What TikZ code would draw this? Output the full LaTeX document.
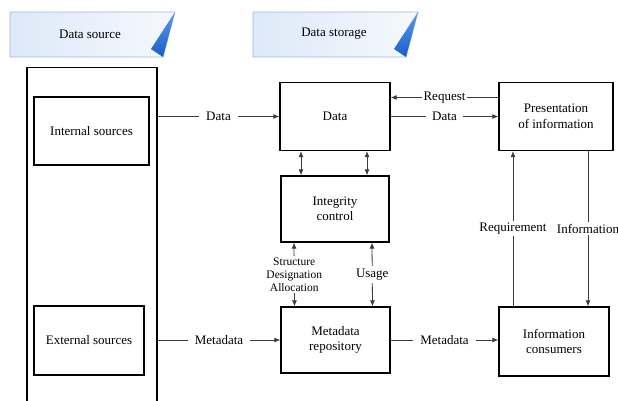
\documentclass[tikz,border=0pt]{standalone}
\usepackage{fontspec}
\setmainfont{Liberation Serif}
\usetikzlibrary{arrows.meta,positioning,calc}
\definecolor{hdrL}{RGB}{220,233,248}
\definecolor{hdrR}{RGB}{246,249,253}
\definecolor{hdrB}{RGB}{150,186,228}
\definecolor{triA}{RGB}{25,95,200}
\definecolor{triB}{RGB}{90,155,230}
\definecolor{connC}{RGB}{60,60,60}
\tikzset{
  txt/.style={font=\fontsize{13}{15.5}\selectfont, align=center},
  box/.style={txt, draw=black, line width=1.3pt, fill=white, inner sep=2pt},
  frame/.style={draw=black, line width=1.3pt},
  conn/.style={draw=connC, line width=0.8pt},
  arr/.style={conn, -{Latex[length=6pt,width=5pt]}},
  darr/.style={conn, {Latex[length=6pt,width=5pt]}-{Latex[length=6pt,width=5pt]}},
  lbl/.style={txt, fill=white, inner sep=4pt},
  slbl/.style={font=\fontsize{11.5}{13}\selectfont, align=center, fill=white, inner sep=2pt},
}
\begin{document}
\begin{tikzpicture}[x=1pt,y=-1pt]
\useasboundingbox (0,0) rectangle (618,400);
% header banners
\shade[left color=hdrL, right color=hdrR, draw=hdrB, line width=0.6pt]
  (10,12) -- (175,12) -- (163,57) -- (10,57) -- cycle;
\shade[top color=triB, bottom color=triA] (175,12) -- (151,49) -- (163,57) -- cycle;
\node[txt] (hdr1) at (90,34) {Data source};
\shade[left color=hdrL, right color=hdrR, draw=hdrB, line width=0.6pt]
  (253,12) -- (418,12) -- (406,57) -- (253,57) -- cycle;
\shade[top color=triB, bottom color=triA] (418,12) -- (394,49) -- (406,57) -- cycle;
\node[txt] (hdr2) at (334,34) {Data storage};
% left frame
\node[frame, minimum width=130pt, minimum height=360pt, anchor=north] (frame) at (92,67) {};
\node[box, minimum width=115pt, minimum height=68pt] (internal) at (91.5,131) {Internal sources};
\node[box, minimum width=110pt, minimum height=69pt] (external) at (89,340.5) {External sources};
% storage boxes
\node[box, minimum width=110pt, minimum height=68pt] (data) at (335,116.5) {Data};
\node[box, minimum width=108pt, minimum height=66pt] (integrity) at (335,209) {Integrity\\control};
\node[box, minimum width=109pt, minimum height=66pt] (meta) at (335.5,340) {Metadata\\repository};
\node[box, minimum width=114pt, minimum height=68pt] (present) at (556,116.5) {Presentation\\of information};
\node[box, minimum width=110pt, minimum height=69pt] (consumers) at (554,341.5) {Information\\consumers};
% connectors
\draw[arr] (frame.east |- data.west) -- node[lbl, inner sep=7pt]{Data} (data.west);
\draw[arr] ([yshift=19pt]present.west) -- node[lbl, inner sep=2pt]{Request} ([yshift=19pt]present.west -| data.east);
\draw[arr] (data.east) -- node[lbl, inner sep=6pt]{Data} (present.west |- data.east);
\draw[darr] ([xshift=-34pt]data.south) -- ([xshift=-34pt]integrity.north);
\draw[darr] ([xshift=32pt]data.south) -- ([xshift=32pt]integrity.north);
\draw[darr] ([xshift=-41pt]integrity.south) -- node[slbl]{Structure\\Designation\\Allocation} ([xshift=-41pt]meta.north);
\draw[darr] ([xshift=37pt]integrity.south) -- node[lbl, inner sep=3pt]{Usage} ([xshift=37pt]meta.north);
\draw[arr] (frame.east |- meta.west) -- node[lbl, inner sep=7pt]{Metadata} (meta.west);
\draw[arr] (meta.east) -- node[lbl, inner sep=7pt]{Metadata} (consumers.west |- meta.east);
\draw[arr] ([xshift=-41pt]consumers.north) -- node[lbl, inner sep=2pt]{Requirement} ([xshift=-41pt]consumers.north |- present.south);
\draw[arr] ([xshift=32pt]present.south) -- node[lbl, inner sep=2pt]{Information} ([xshift=32pt]present.south |- consumers.north);
\end{tikzpicture}
\end{document}
